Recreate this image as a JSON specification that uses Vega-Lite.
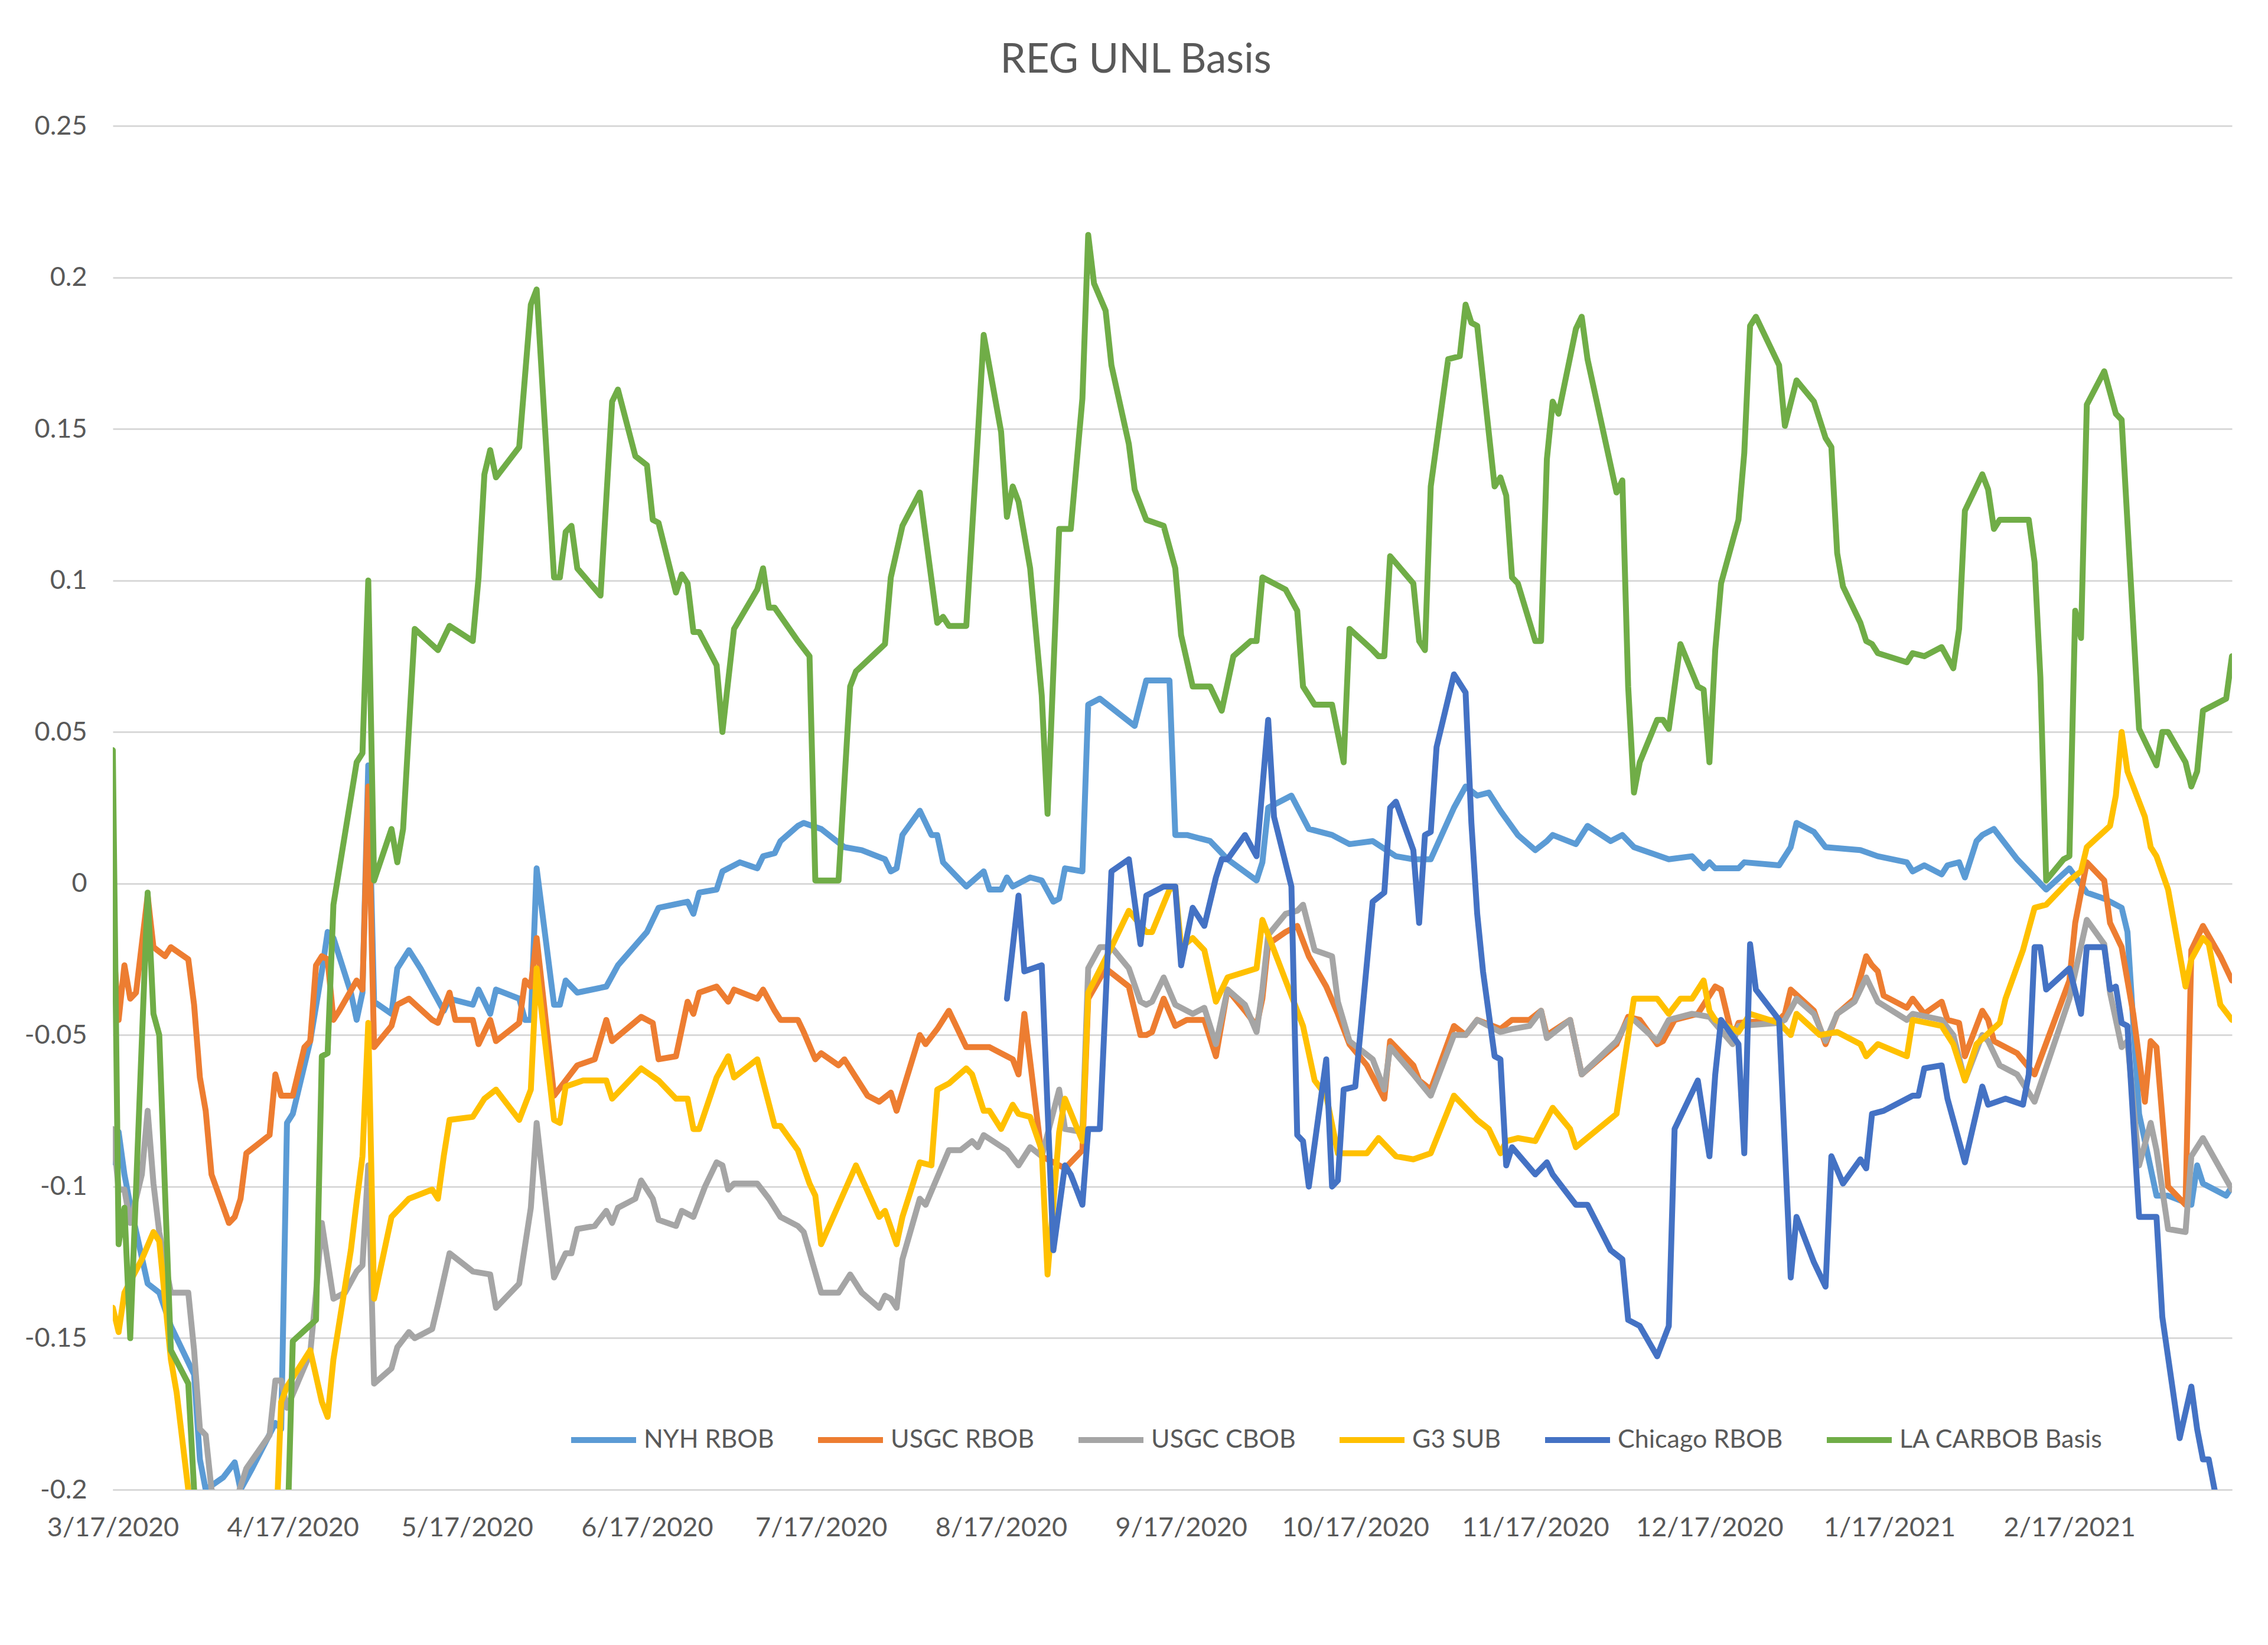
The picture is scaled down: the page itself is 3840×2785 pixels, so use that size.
{
"$schema": "https://vega.github.io/schema/vega-lite/v6.json",
"width": 3588, "height": 2309,
"autosize": {"type": "none"},
"padding": {"left": 191, "top": 213, "right": 61, "bottom": 263},
"background": "white",
"config": {"view": {"stroke": null}, "font": "Lato"},
"title": {"text": "REG UNL Basis", "fontSize": 69, "font": "Lato", "fontWeight": "normal", "color": "#595959", "anchor": "middle", "dx": -62, "offset": 54},
"data": {"values": [
{"s":"NYH RBOB","d":"2020-03-17","v":-0.092},{"s":"NYH RBOB","d":"2020-03-18","v":-0.082},{"s":"NYH RBOB","d":"2020-03-19","v":-0.096},{"s":"NYH RBOB","d":"2020-03-20","v":-0.106},{"s":"NYH RBOB","d":"2020-03-23","v":-0.132},{"s":"NYH RBOB","d":"2020-03-25","v":-0.135},{"s":"NYH RBOB","d":"2020-03-27","v":-0.146},{"s":"NYH RBOB","d":"2020-03-31","v":-0.162},{"s":"NYH RBOB","d":"2020-04-01","v":-0.19},{"s":"NYH RBOB","d":"2020-04-02","v":-0.2},{"s":"NYH RBOB","d":"2020-04-05","v":-0.196},{"s":"NYH RBOB","d":"2020-04-07","v":-0.191},{"s":"NYH RBOB","d":"2020-04-08","v":-0.2},{"s":"NYH RBOB","d":"2020-04-10","v":-0.193},{"s":"NYH RBOB","d":"2020-04-14","v":-0.178},{"s":"NYH RBOB","d":"2020-04-15","v":-0.18},{"s":"NYH RBOB","d":"2020-04-16","v":-0.079},{"s":"NYH RBOB","d":"2020-04-17","v":-0.076},{"s":"NYH RBOB","d":"2020-04-20","v":-0.052},{"s":"NYH RBOB","d":"2020-04-22","v":-0.029},{"s":"NYH RBOB","d":"2020-04-23","v":-0.016},{"s":"NYH RBOB","d":"2020-04-24","v":-0.018},{"s":"NYH RBOB","d":"2020-04-27","v":-0.036},{"s":"NYH RBOB","d":"2020-04-28","v":-0.045},{"s":"NYH RBOB","d":"2020-04-29","v":-0.036},{"s":"NYH RBOB","d":"2020-04-30","v":0.039},{"s":"NYH RBOB","d":"2020-05-01","v":-0.039},{"s":"NYH RBOB","d":"2020-05-04","v":-0.043},{"s":"NYH RBOB","d":"2020-05-05","v":-0.028},{"s":"NYH RBOB","d":"2020-05-07","v":-0.022},{"s":"NYH RBOB","d":"2020-05-09","v":-0.028},{"s":"NYH RBOB","d":"2020-05-13","v":-0.042},{"s":"NYH RBOB","d":"2020-05-14","v":-0.038},{"s":"NYH RBOB","d":"2020-05-18","v":-0.04},{"s":"NYH RBOB","d":"2020-05-19","v":-0.035},{"s":"NYH RBOB","d":"2020-05-21","v":-0.043},{"s":"NYH RBOB","d":"2020-05-22","v":-0.035},{"s":"NYH RBOB","d":"2020-05-26","v":-0.038},{"s":"NYH RBOB","d":"2020-05-27","v":-0.045},{"s":"NYH RBOB","d":"2020-05-28","v":-0.045},{"s":"NYH RBOB","d":"2020-05-29","v":0.005},{"s":"NYH RBOB","d":"2020-06-01","v":-0.04},{"s":"NYH RBOB","d":"2020-06-02","v":-0.04},{"s":"NYH RBOB","d":"2020-06-03","v":-0.032},{"s":"NYH RBOB","d":"2020-06-05","v":-0.036},{"s":"NYH RBOB","d":"2020-06-10","v":-0.034},{"s":"NYH RBOB","d":"2020-06-12","v":-0.027},{"s":"NYH RBOB","d":"2020-06-17","v":-0.016},{"s":"NYH RBOB","d":"2020-06-19","v":-0.008},{"s":"NYH RBOB","d":"2020-06-24","v":-0.006},{"s":"NYH RBOB","d":"2020-06-25","v":-0.01},{"s":"NYH RBOB","d":"2020-06-26","v":-0.003},{"s":"NYH RBOB","d":"2020-06-29","v":-0.002},{"s":"NYH RBOB","d":"2020-06-30","v":0.004},{"s":"NYH RBOB","d":"2020-07-03","v":0.007},{"s":"NYH RBOB","d":"2020-07-06","v":0.005},{"s":"NYH RBOB","d":"2020-07-07","v":0.009},{"s":"NYH RBOB","d":"2020-07-09","v":0.01},{"s":"NYH RBOB","d":"2020-07-10","v":0.014},{"s":"NYH RBOB","d":"2020-07-13","v":0.019},{"s":"NYH RBOB","d":"2020-07-14","v":0.02},{"s":"NYH RBOB","d":"2020-07-17","v":0.018},{"s":"NYH RBOB","d":"2020-07-21","v":0.012},{"s":"NYH RBOB","d":"2020-07-24","v":0.011},{"s":"NYH RBOB","d":"2020-07-28","v":0.008},{"s":"NYH RBOB","d":"2020-07-29","v":0.004},{"s":"NYH RBOB","d":"2020-07-30","v":0.005},{"s":"NYH RBOB","d":"2020-07-31","v":0.016},{"s":"NYH RBOB","d":"2020-08-03","v":0.024},{"s":"NYH RBOB","d":"2020-08-05","v":0.016},{"s":"NYH RBOB","d":"2020-08-06","v":0.016},{"s":"NYH RBOB","d":"2020-08-07","v":0.007},{"s":"NYH RBOB","d":"2020-08-11","v":-0.001},{"s":"NYH RBOB","d":"2020-08-14","v":0.004},{"s":"NYH RBOB","d":"2020-08-15","v":-0.002},{"s":"NYH RBOB","d":"2020-08-17","v":-0.002},{"s":"NYH RBOB","d":"2020-08-18","v":0.002},{"s":"NYH RBOB","d":"2020-08-19","v":-0.001},{"s":"NYH RBOB","d":"2020-08-22","v":0.002},{"s":"NYH RBOB","d":"2020-08-24","v":0.001},{"s":"NYH RBOB","d":"2020-08-26","v":-0.006},{"s":"NYH RBOB","d":"2020-08-27","v":-0.005},{"s":"NYH RBOB","d":"2020-08-28","v":0.005},{"s":"NYH RBOB","d":"2020-08-31","v":0.004},{"s":"NYH RBOB","d":"2020-09-01","v":0.059},{"s":"NYH RBOB","d":"2020-09-03","v":0.061},{"s":"NYH RBOB","d":"2020-09-09","v":0.052},{"s":"NYH RBOB","d":"2020-09-11","v":0.067},{"s":"NYH RBOB","d":"2020-09-15","v":0.067},{"s":"NYH RBOB","d":"2020-09-16","v":0.016},{"s":"NYH RBOB","d":"2020-09-18","v":0.016},{"s":"NYH RBOB","d":"2020-09-22","v":0.014},{"s":"NYH RBOB","d":"2020-09-25","v":0.008},{"s":"NYH RBOB","d":"2020-09-30","v":0.001},{"s":"NYH RBOB","d":"2020-10-01","v":0.007},{"s":"NYH RBOB","d":"2020-10-02","v":0.025},{"s":"NYH RBOB","d":"2020-10-06","v":0.029},{"s":"NYH RBOB","d":"2020-10-09","v":0.018},{"s":"NYH RBOB","d":"2020-10-13","v":0.016},{"s":"NYH RBOB","d":"2020-10-14","v":0.015},{"s":"NYH RBOB","d":"2020-10-16","v":0.013},{"s":"NYH RBOB","d":"2020-10-20","v":0.014},{"s":"NYH RBOB","d":"2020-10-24","v":0.009},{"s":"NYH RBOB","d":"2020-10-27","v":0.008},{"s":"NYH RBOB","d":"2020-10-30","v":0.008},{"s":"NYH RBOB","d":"2020-11-03","v":0.025},{"s":"NYH RBOB","d":"2020-11-05","v":0.032},{"s":"NYH RBOB","d":"2020-11-07","v":0.029},{"s":"NYH RBOB","d":"2020-11-09","v":0.03},{"s":"NYH RBOB","d":"2020-11-11","v":0.024},{"s":"NYH RBOB","d":"2020-11-14","v":0.016},{"s":"NYH RBOB","d":"2020-11-17","v":0.011},{"s":"NYH RBOB","d":"2020-11-19","v":0.014},{"s":"NYH RBOB","d":"2020-11-20","v":0.016},{"s":"NYH RBOB","d":"2020-11-24","v":0.013},{"s":"NYH RBOB","d":"2020-11-26","v":0.019},{"s":"NYH RBOB","d":"2020-11-30","v":0.014},{"s":"NYH RBOB","d":"2020-12-02","v":0.016},{"s":"NYH RBOB","d":"2020-12-04","v":0.012},{"s":"NYH RBOB","d":"2020-12-10","v":0.008},{"s":"NYH RBOB","d":"2020-12-14","v":0.009},{"s":"NYH RBOB","d":"2020-12-16","v":0.005},{"s":"NYH RBOB","d":"2020-12-17","v":0.007},{"s":"NYH RBOB","d":"2020-12-18","v":0.005},{"s":"NYH RBOB","d":"2020-12-22","v":0.005},{"s":"NYH RBOB","d":"2020-12-23","v":0.007},{"s":"NYH RBOB","d":"2020-12-29","v":0.006},{"s":"NYH RBOB","d":"2020-12-31","v":0.012},{"s":"NYH RBOB","d":"2021-01-01","v":0.02},{"s":"NYH RBOB","d":"2021-01-04","v":0.017},{"s":"NYH RBOB","d":"2021-01-06","v":0.012},{"s":"NYH RBOB","d":"2021-01-12","v":0.011},{"s":"NYH RBOB","d":"2021-01-15","v":0.009},{"s":"NYH RBOB","d":"2021-01-20","v":0.007},{"s":"NYH RBOB","d":"2021-01-21","v":0.004},{"s":"NYH RBOB","d":"2021-01-23","v":0.006},{"s":"NYH RBOB","d":"2021-01-26","v":0.003},{"s":"NYH RBOB","d":"2021-01-27","v":0.006},{"s":"NYH RBOB","d":"2021-01-29","v":0.007},{"s":"NYH RBOB","d":"2021-01-30","v":0.002},{"s":"NYH RBOB","d":"2021-02-01","v":0.014},{"s":"NYH RBOB","d":"2021-02-02","v":0.016},{"s":"NYH RBOB","d":"2021-02-04","v":0.018},{"s":"NYH RBOB","d":"2021-02-08","v":0.008},{"s":"NYH RBOB","d":"2021-02-10","v":0.004},{"s":"NYH RBOB","d":"2021-02-13","v":-0.002},{"s":"NYH RBOB","d":"2021-02-17","v":0.005},{"s":"NYH RBOB","d":"2021-02-20","v":-0.003},{"s":"NYH RBOB","d":"2021-02-23","v":-0.005},{"s":"NYH RBOB","d":"2021-02-26","v":-0.008},{"s":"NYH RBOB","d":"2021-02-27","v":-0.016},{"s":"NYH RBOB","d":"2021-03-01","v":-0.076},{"s":"NYH RBOB","d":"2021-03-04","v":-0.103},{"s":"NYH RBOB","d":"2021-03-06","v":-0.103},{"s":"NYH RBOB","d":"2021-03-10","v":-0.106},{"s":"NYH RBOB","d":"2021-03-11","v":-0.093},{"s":"NYH RBOB","d":"2021-03-12","v":-0.099},{"s":"NYH RBOB","d":"2021-03-14","v":-0.101},{"s":"NYH RBOB","d":"2021-03-16","v":-0.103},{"s":"NYH RBOB","d":"2021-03-17","v":-0.1},
{"s":"USGC RBOB","d":"2020-03-17","v":-0.018},{"s":"USGC RBOB","d":"2020-03-18","v":-0.045},{"s":"USGC RBOB","d":"2020-03-19","v":-0.027},{"s":"USGC RBOB","d":"2020-03-20","v":-0.038},{"s":"USGC RBOB","d":"2020-03-21","v":-0.036},{"s":"USGC RBOB","d":"2020-03-23","v":-0.004},{"s":"USGC RBOB","d":"2020-03-24","v":-0.021},{"s":"USGC RBOB","d":"2020-03-26","v":-0.024},{"s":"USGC RBOB","d":"2020-03-27","v":-0.021},{"s":"USGC RBOB","d":"2020-03-30","v":-0.025},{"s":"USGC RBOB","d":"2020-03-31","v":-0.04},{"s":"USGC RBOB","d":"2020-04-01","v":-0.064},{"s":"USGC RBOB","d":"2020-04-02","v":-0.075},{"s":"USGC RBOB","d":"2020-04-03","v":-0.096},{"s":"USGC RBOB","d":"2020-04-06","v":-0.112},{"s":"USGC RBOB","d":"2020-04-07","v":-0.11},{"s":"USGC RBOB","d":"2020-04-08","v":-0.104},{"s":"USGC RBOB","d":"2020-04-09","v":-0.089},{"s":"USGC RBOB","d":"2020-04-13","v":-0.083},{"s":"USGC RBOB","d":"2020-04-14","v":-0.063},{"s":"USGC RBOB","d":"2020-04-15","v":-0.07},{"s":"USGC RBOB","d":"2020-04-17","v":-0.07},{"s":"USGC RBOB","d":"2020-04-19","v":-0.054},{"s":"USGC RBOB","d":"2020-04-20","v":-0.052},{"s":"USGC RBOB","d":"2020-04-21","v":-0.027},{"s":"USGC RBOB","d":"2020-04-22","v":-0.024},{"s":"USGC RBOB","d":"2020-04-23","v":-0.025},{"s":"USGC RBOB","d":"2020-04-24","v":-0.045},{"s":"USGC RBOB","d":"2020-04-25","v":-0.042},{"s":"USGC RBOB","d":"2020-04-28","v":-0.032},{"s":"USGC RBOB","d":"2020-04-29","v":-0.035},{"s":"USGC RBOB","d":"2020-04-30","v":0.032},{"s":"USGC RBOB","d":"2020-05-01","v":-0.054},{"s":"USGC RBOB","d":"2020-05-04","v":-0.047},{"s":"USGC RBOB","d":"2020-05-05","v":-0.04},{"s":"USGC RBOB","d":"2020-05-07","v":-0.038},{"s":"USGC RBOB","d":"2020-05-11","v":-0.045},{"s":"USGC RBOB","d":"2020-05-12","v":-0.046},{"s":"USGC RBOB","d":"2020-05-14","v":-0.036},{"s":"USGC RBOB","d":"2020-05-15","v":-0.045},{"s":"USGC RBOB","d":"2020-05-18","v":-0.045},{"s":"USGC RBOB","d":"2020-05-19","v":-0.053},{"s":"USGC RBOB","d":"2020-05-21","v":-0.045},{"s":"USGC RBOB","d":"2020-05-22","v":-0.052},{"s":"USGC RBOB","d":"2020-05-26","v":-0.046},{"s":"USGC RBOB","d":"2020-05-27","v":-0.032},{"s":"USGC RBOB","d":"2020-05-28","v":-0.034},{"s":"USGC RBOB","d":"2020-05-29","v":-0.018},{"s":"USGC RBOB","d":"2020-06-01","v":-0.07},{"s":"USGC RBOB","d":"2020-06-03","v":-0.065},{"s":"USGC RBOB","d":"2020-06-05","v":-0.06},{"s":"USGC RBOB","d":"2020-06-08","v":-0.058},{"s":"USGC RBOB","d":"2020-06-10","v":-0.045},{"s":"USGC RBOB","d":"2020-06-11","v":-0.052},{"s":"USGC RBOB","d":"2020-06-16","v":-0.044},{"s":"USGC RBOB","d":"2020-06-18","v":-0.046},{"s":"USGC RBOB","d":"2020-06-19","v":-0.058},{"s":"USGC RBOB","d":"2020-06-22","v":-0.057},{"s":"USGC RBOB","d":"2020-06-24","v":-0.039},{"s":"USGC RBOB","d":"2020-06-25","v":-0.043},{"s":"USGC RBOB","d":"2020-06-26","v":-0.036},{"s":"USGC RBOB","d":"2020-06-29","v":-0.034},{"s":"USGC RBOB","d":"2020-07-01","v":-0.039},{"s":"USGC RBOB","d":"2020-07-02","v":-0.035},{"s":"USGC RBOB","d":"2020-07-06","v":-0.038},{"s":"USGC RBOB","d":"2020-07-07","v":-0.035},{"s":"USGC RBOB","d":"2020-07-09","v":-0.042},{"s":"USGC RBOB","d":"2020-07-10","v":-0.045},{"s":"USGC RBOB","d":"2020-07-13","v":-0.045},{"s":"USGC RBOB","d":"2020-07-14","v":-0.049},{"s":"USGC RBOB","d":"2020-07-16","v":-0.058},{"s":"USGC RBOB","d":"2020-07-17","v":-0.056},{"s":"USGC RBOB","d":"2020-07-20","v":-0.06},{"s":"USGC RBOB","d":"2020-07-21","v":-0.058},{"s":"USGC RBOB","d":"2020-07-25","v":-0.07},{"s":"USGC RBOB","d":"2020-07-27","v":-0.072},{"s":"USGC RBOB","d":"2020-07-29","v":-0.069},{"s":"USGC RBOB","d":"2020-07-30","v":-0.075},{"s":"USGC RBOB","d":"2020-08-03","v":-0.05},{"s":"USGC RBOB","d":"2020-08-04","v":-0.053},{"s":"USGC RBOB","d":"2020-08-06","v":-0.048},{"s":"USGC RBOB","d":"2020-08-08","v":-0.042},{"s":"USGC RBOB","d":"2020-08-11","v":-0.054},{"s":"USGC RBOB","d":"2020-08-15","v":-0.054},{"s":"USGC RBOB","d":"2020-08-18","v":-0.057},{"s":"USGC RBOB","d":"2020-08-19","v":-0.058},{"s":"USGC RBOB","d":"2020-08-20","v":-0.063},{"s":"USGC RBOB","d":"2020-08-21","v":-0.043},{"s":"USGC RBOB","d":"2020-08-24","v":-0.09},{"s":"USGC RBOB","d":"2020-08-28","v":-0.094},{"s":"USGC RBOB","d":"2020-08-31","v":-0.088},{"s":"USGC RBOB","d":"2020-09-01","v":-0.038},{"s":"USGC RBOB","d":"2020-09-04","v":-0.028},{"s":"USGC RBOB","d":"2020-09-08","v":-0.034},{"s":"USGC RBOB","d":"2020-09-10","v":-0.05},{"s":"USGC RBOB","d":"2020-09-11","v":-0.05},{"s":"USGC RBOB","d":"2020-09-12","v":-0.049},{"s":"USGC RBOB","d":"2020-09-14","v":-0.038},{"s":"USGC RBOB","d":"2020-09-16","v":-0.047},{"s":"USGC RBOB","d":"2020-09-18","v":-0.045},{"s":"USGC RBOB","d":"2020-09-21","v":-0.045},{"s":"USGC RBOB","d":"2020-09-23","v":-0.057},{"s":"USGC RBOB","d":"2020-09-25","v":-0.035},{"s":"USGC RBOB","d":"2020-09-28","v":-0.042},{"s":"USGC RBOB","d":"2020-09-30","v":-0.047},{"s":"USGC RBOB","d":"2020-10-01","v":-0.038},{"s":"USGC RBOB","d":"2020-10-02","v":-0.02},{"s":"USGC RBOB","d":"2020-10-05","v":-0.016},{"s":"USGC RBOB","d":"2020-10-07","v":-0.014},{"s":"USGC RBOB","d":"2020-10-09","v":-0.024},{"s":"USGC RBOB","d":"2020-10-12","v":-0.034},{"s":"USGC RBOB","d":"2020-10-14","v":-0.043},{"s":"USGC RBOB","d":"2020-10-16","v":-0.053},{"s":"USGC RBOB","d":"2020-10-19","v":-0.06},{"s":"USGC RBOB","d":"2020-10-22","v":-0.071},{"s":"USGC RBOB","d":"2020-10-23","v":-0.052},{"s":"USGC RBOB","d":"2020-10-27","v":-0.06},{"s":"USGC RBOB","d":"2020-10-28","v":-0.065},{"s":"USGC RBOB","d":"2020-10-30","v":-0.068},{"s":"USGC RBOB","d":"2020-11-03","v":-0.047},{"s":"USGC RBOB","d":"2020-11-05","v":-0.05},{"s":"USGC RBOB","d":"2020-11-07","v":-0.045},{"s":"USGC RBOB","d":"2020-11-11","v":-0.048},{"s":"USGC RBOB","d":"2020-11-13","v":-0.045},{"s":"USGC RBOB","d":"2020-11-16","v":-0.045},{"s":"USGC RBOB","d":"2020-11-18","v":-0.042},{"s":"USGC RBOB","d":"2020-11-19","v":-0.05},{"s":"USGC RBOB","d":"2020-11-23","v":-0.045},{"s":"USGC RBOB","d":"2020-11-25","v":-0.063},{"s":"USGC RBOB","d":"2020-12-01","v":-0.053},{"s":"USGC RBOB","d":"2020-12-03","v":-0.044},{"s":"USGC RBOB","d":"2020-12-05","v":-0.045},{"s":"USGC RBOB","d":"2020-12-08","v":-0.053},{"s":"USGC RBOB","d":"2020-12-09","v":-0.052},{"s":"USGC RBOB","d":"2020-12-11","v":-0.045},{"s":"USGC RBOB","d":"2020-12-15","v":-0.043},{"s":"USGC RBOB","d":"2020-12-18","v":-0.034},{"s":"USGC RBOB","d":"2020-12-19","v":-0.035},{"s":"USGC RBOB","d":"2020-12-21","v":-0.051},{"s":"USGC RBOB","d":"2020-12-22","v":-0.046},{"s":"USGC RBOB","d":"2020-12-29","v":-0.045},{"s":"USGC RBOB","d":"2020-12-30","v":-0.043},{"s":"USGC RBOB","d":"2020-12-31","v":-0.035},{"s":"USGC RBOB","d":"2021-01-04","v":-0.042},{"s":"USGC RBOB","d":"2021-01-06","v":-0.053},{"s":"USGC RBOB","d":"2021-01-08","v":-0.043},{"s":"USGC RBOB","d":"2021-01-11","v":-0.038},{"s":"USGC RBOB","d":"2021-01-12","v":-0.031},{"s":"USGC RBOB","d":"2021-01-13","v":-0.024},{"s":"USGC RBOB","d":"2021-01-14","v":-0.027},{"s":"USGC RBOB","d":"2021-01-15","v":-0.029},{"s":"USGC RBOB","d":"2021-01-16","v":-0.037},{"s":"USGC RBOB","d":"2021-01-20","v":-0.041},{"s":"USGC RBOB","d":"2021-01-21","v":-0.038},{"s":"USGC RBOB","d":"2021-01-23","v":-0.043},{"s":"USGC RBOB","d":"2021-01-26","v":-0.039},{"s":"USGC RBOB","d":"2021-01-27","v":-0.045},{"s":"USGC RBOB","d":"2021-01-29","v":-0.046},{"s":"USGC RBOB","d":"2021-01-30","v":-0.057},{"s":"USGC RBOB","d":"2021-02-02","v":-0.042},{"s":"USGC RBOB","d":"2021-02-03","v":-0.045},{"s":"USGC RBOB","d":"2021-02-04","v":-0.052},{"s":"USGC RBOB","d":"2021-02-08","v":-0.056},{"s":"USGC RBOB","d":"2021-02-11","v":-0.063},{"s":"USGC RBOB","d":"2021-02-17","v":-0.032},{"s":"USGC RBOB","d":"2021-02-18","v":-0.013},{"s":"USGC RBOB","d":"2021-02-20","v":0.007},{"s":"USGC RBOB","d":"2021-02-23","v":0.001},{"s":"USGC RBOB","d":"2021-02-24","v":-0.013},{"s":"USGC RBOB","d":"2021-02-26","v":-0.021},{"s":"USGC RBOB","d":"2021-02-28","v":-0.043},{"s":"USGC RBOB","d":"2021-03-02","v":-0.072},{"s":"USGC RBOB","d":"2021-03-03","v":-0.052},{"s":"USGC RBOB","d":"2021-03-04","v":-0.054},{"s":"USGC RBOB","d":"2021-03-06","v":-0.1},{"s":"USGC RBOB","d":"2021-03-09","v":-0.106},{"s":"USGC RBOB","d":"2021-03-10","v":-0.022},{"s":"USGC RBOB","d":"2021-03-12","v":-0.014},{"s":"USGC RBOB","d":"2021-03-15","v":-0.024},{"s":"USGC RBOB","d":"2021-03-17","v":-0.032},
{"s":"USGC CBOB","d":"2020-03-17","v":-0.081},{"s":"USGC CBOB","d":"2020-03-18","v":-0.101},{"s":"USGC CBOB","d":"2020-03-19","v":-0.101},{"s":"USGC CBOB","d":"2020-03-20","v":-0.112},{"s":"USGC CBOB","d":"2020-03-22","v":-0.096},{"s":"USGC CBOB","d":"2020-03-23","v":-0.075},{"s":"USGC CBOB","d":"2020-03-24","v":-0.099},{"s":"USGC CBOB","d":"2020-03-25","v":-0.115},{"s":"USGC CBOB","d":"2020-03-27","v":-0.135},{"s":"USGC CBOB","d":"2020-03-30","v":-0.135},{"s":"USGC CBOB","d":"2020-03-31","v":-0.154},{"s":"USGC CBOB","d":"2020-04-01","v":-0.18},{"s":"USGC CBOB","d":"2020-04-02","v":-0.182},{"s":"USGC CBOB","d":"2020-04-03","v":-0.2},{"s":"USGC CBOB","d":"2020-04-05","v":-0.205},{"s":"USGC CBOB","d":"2020-04-07","v":-0.205},{"s":"USGC CBOB","d":"2020-04-09","v":-0.193},{"s":"USGC CBOB","d":"2020-04-13","v":-0.182},{"s":"USGC CBOB","d":"2020-04-14","v":-0.164},{"s":"USGC CBOB","d":"2020-04-15","v":-0.164},{"s":"USGC CBOB","d":"2020-04-16","v":-0.173},{"s":"USGC CBOB","d":"2020-04-20","v":-0.155},{"s":"USGC CBOB","d":"2020-04-21","v":-0.135},{"s":"USGC CBOB","d":"2020-04-22","v":-0.112},{"s":"USGC CBOB","d":"2020-04-24","v":-0.137},{"s":"USGC CBOB","d":"2020-04-26","v":-0.135},{"s":"USGC CBOB","d":"2020-04-28","v":-0.128},{"s":"USGC CBOB","d":"2020-04-29","v":-0.126},{"s":"USGC CBOB","d":"2020-04-30","v":-0.093},{"s":"USGC CBOB","d":"2020-05-01","v":-0.165},{"s":"USGC CBOB","d":"2020-05-04","v":-0.16},{"s":"USGC CBOB","d":"2020-05-05","v":-0.153},{"s":"USGC CBOB","d":"2020-05-07","v":-0.148},{"s":"USGC CBOB","d":"2020-05-08","v":-0.15},{"s":"USGC CBOB","d":"2020-05-11","v":-0.147},{"s":"USGC CBOB","d":"2020-05-12","v":-0.139},{"s":"USGC CBOB","d":"2020-05-14","v":-0.122},{"s":"USGC CBOB","d":"2020-05-18","v":-0.128},{"s":"USGC CBOB","d":"2020-05-21","v":-0.129},{"s":"USGC CBOB","d":"2020-05-22","v":-0.14},{"s":"USGC CBOB","d":"2020-05-26","v":-0.132},{"s":"USGC CBOB","d":"2020-05-28","v":-0.107},{"s":"USGC CBOB","d":"2020-05-29","v":-0.079},{"s":"USGC CBOB","d":"2020-06-01","v":-0.13},{"s":"USGC CBOB","d":"2020-06-03","v":-0.122},{"s":"USGC CBOB","d":"2020-06-04","v":-0.122},{"s":"USGC CBOB","d":"2020-06-05","v":-0.114},{"s":"USGC CBOB","d":"2020-06-08","v":-0.113},{"s":"USGC CBOB","d":"2020-06-10","v":-0.108},{"s":"USGC CBOB","d":"2020-06-11","v":-0.112},{"s":"USGC CBOB","d":"2020-06-12","v":-0.107},{"s":"USGC CBOB","d":"2020-06-15","v":-0.104},{"s":"USGC CBOB","d":"2020-06-16","v":-0.098},{"s":"USGC CBOB","d":"2020-06-18","v":-0.104},{"s":"USGC CBOB","d":"2020-06-19","v":-0.111},{"s":"USGC CBOB","d":"2020-06-22","v":-0.113},{"s":"USGC CBOB","d":"2020-06-23","v":-0.108},{"s":"USGC CBOB","d":"2020-06-25","v":-0.11},{"s":"USGC CBOB","d":"2020-06-27","v":-0.1},{"s":"USGC CBOB","d":"2020-06-29","v":-0.092},{"s":"USGC CBOB","d":"2020-06-30","v":-0.093},{"s":"USGC CBOB","d":"2020-07-01","v":-0.101},{"s":"USGC CBOB","d":"2020-07-02","v":-0.099},{"s":"USGC CBOB","d":"2020-07-06","v":-0.099},{"s":"USGC CBOB","d":"2020-07-08","v":-0.104},{"s":"USGC CBOB","d":"2020-07-10","v":-0.11},{"s":"USGC CBOB","d":"2020-07-13","v":-0.113},{"s":"USGC CBOB","d":"2020-07-14","v":-0.115},{"s":"USGC CBOB","d":"2020-07-17","v":-0.135},{"s":"USGC CBOB","d":"2020-07-20","v":-0.135},{"s":"USGC CBOB","d":"2020-07-22","v":-0.129},{"s":"USGC CBOB","d":"2020-07-24","v":-0.135},{"s":"USGC CBOB","d":"2020-07-27","v":-0.14},{"s":"USGC CBOB","d":"2020-07-28","v":-0.136},{"s":"USGC CBOB","d":"2020-07-29","v":-0.137},{"s":"USGC CBOB","d":"2020-07-30","v":-0.14},{"s":"USGC CBOB","d":"2020-07-31","v":-0.124},{"s":"USGC CBOB","d":"2020-08-03","v":-0.104},{"s":"USGC CBOB","d":"2020-08-04","v":-0.106},{"s":"USGC CBOB","d":"2020-08-08","v":-0.088},{"s":"USGC CBOB","d":"2020-08-10","v":-0.088},{"s":"USGC CBOB","d":"2020-08-12","v":-0.085},{"s":"USGC CBOB","d":"2020-08-13","v":-0.087},{"s":"USGC CBOB","d":"2020-08-14","v":-0.083},{"s":"USGC CBOB","d":"2020-08-18","v":-0.088},{"s":"USGC CBOB","d":"2020-08-20","v":-0.093},{"s":"USGC CBOB","d":"2020-08-22","v":-0.087},{"s":"USGC CBOB","d":"2020-08-24","v":-0.09},{"s":"USGC CBOB","d":"2020-08-27","v":-0.068},{"s":"USGC CBOB","d":"2020-08-28","v":-0.081},{"s":"USGC CBOB","d":"2020-08-31","v":-0.082},{"s":"USGC CBOB","d":"2020-09-01","v":-0.028},{"s":"USGC CBOB","d":"2020-09-03","v":-0.021},{"s":"USGC CBOB","d":"2020-09-05","v":-0.021},{"s":"USGC CBOB","d":"2020-09-08","v":-0.028},{"s":"USGC CBOB","d":"2020-09-10","v":-0.039},{"s":"USGC CBOB","d":"2020-09-11","v":-0.04},{"s":"USGC CBOB","d":"2020-09-12","v":-0.039},{"s":"USGC CBOB","d":"2020-09-14","v":-0.031},{"s":"USGC CBOB","d":"2020-09-16","v":-0.04},{"s":"USGC CBOB","d":"2020-09-19","v":-0.043},{"s":"USGC CBOB","d":"2020-09-21","v":-0.041},{"s":"USGC CBOB","d":"2020-09-23","v":-0.053},{"s":"USGC CBOB","d":"2020-09-25","v":-0.035},{"s":"USGC CBOB","d":"2020-09-28","v":-0.04},{"s":"USGC CBOB","d":"2020-09-30","v":-0.049},{"s":"USGC CBOB","d":"2020-10-01","v":-0.035},{"s":"USGC CBOB","d":"2020-10-02","v":-0.017},{"s":"USGC CBOB","d":"2020-10-05","v":-0.01},{"s":"USGC CBOB","d":"2020-10-07","v":-0.009},{"s":"USGC CBOB","d":"2020-10-08","v":-0.007},{"s":"USGC CBOB","d":"2020-10-10","v":-0.022},{"s":"USGC CBOB","d":"2020-10-13","v":-0.024},{"s":"USGC CBOB","d":"2020-10-14","v":-0.039},{"s":"USGC CBOB","d":"2020-10-16","v":-0.052},{"s":"USGC CBOB","d":"2020-10-20","v":-0.058},{"s":"USGC CBOB","d":"2020-10-22","v":-0.068},{"s":"USGC CBOB","d":"2020-10-23","v":-0.054},{"s":"USGC CBOB","d":"2020-10-27","v":-0.063},{"s":"USGC CBOB","d":"2020-10-30","v":-0.07},{"s":"USGC CBOB","d":"2020-11-03","v":-0.05},{"s":"USGC CBOB","d":"2020-11-05","v":-0.05},{"s":"USGC CBOB","d":"2020-11-07","v":-0.045},{"s":"USGC CBOB","d":"2020-11-11","v":-0.049},{"s":"USGC CBOB","d":"2020-11-13","v":-0.048},{"s":"USGC CBOB","d":"2020-11-16","v":-0.047},{"s":"USGC CBOB","d":"2020-11-18","v":-0.042},{"s":"USGC CBOB","d":"2020-11-19","v":-0.051},{"s":"USGC CBOB","d":"2020-11-23","v":-0.045},{"s":"USGC CBOB","d":"2020-11-25","v":-0.063},{"s":"USGC CBOB","d":"2020-12-01","v":-0.052},{"s":"USGC CBOB","d":"2020-12-03","v":-0.045},{"s":"USGC CBOB","d":"2020-12-04","v":-0.045},{"s":"USGC CBOB","d":"2020-12-08","v":-0.052},{"s":"USGC CBOB","d":"2020-12-10","v":-0.045},{"s":"USGC CBOB","d":"2020-12-14","v":-0.043},{"s":"USGC CBOB","d":"2020-12-17","v":-0.044},{"s":"USGC CBOB","d":"2020-12-21","v":-0.053},{"s":"USGC CBOB","d":"2020-12-22","v":-0.047},{"s":"USGC CBOB","d":"2020-12-29","v":-0.046},{"s":"USGC CBOB","d":"2020-12-30","v":-0.045},{"s":"USGC CBOB","d":"2021-01-01","v":-0.038},{"s":"USGC CBOB","d":"2021-01-04","v":-0.043},{"s":"USGC CBOB","d":"2021-01-06","v":-0.052},{"s":"USGC CBOB","d":"2021-01-08","v":-0.043},{"s":"USGC CBOB","d":"2021-01-11","v":-0.039},{"s":"USGC CBOB","d":"2021-01-12","v":-0.035},{"s":"USGC CBOB","d":"2021-01-13","v":-0.031},{"s":"USGC CBOB","d":"2021-01-15","v":-0.039},{"s":"USGC CBOB","d":"2021-01-20","v":-0.045},{"s":"USGC CBOB","d":"2021-01-21","v":-0.043},{"s":"USGC CBOB","d":"2021-01-26","v":-0.045},{"s":"USGC CBOB","d":"2021-01-28","v":-0.05},{"s":"USGC CBOB","d":"2021-01-30","v":-0.065},{"s":"USGC CBOB","d":"2021-02-02","v":-0.05},{"s":"USGC CBOB","d":"2021-02-03","v":-0.052},{"s":"USGC CBOB","d":"2021-02-05","v":-0.06},{"s":"USGC CBOB","d":"2021-02-08","v":-0.063},{"s":"USGC CBOB","d":"2021-02-11","v":-0.072},{"s":"USGC CBOB","d":"2021-02-17","v":-0.038},{"s":"USGC CBOB","d":"2021-02-20","v":-0.012},{"s":"USGC CBOB","d":"2021-02-23","v":-0.02},{"s":"USGC CBOB","d":"2021-02-24","v":-0.036},{"s":"USGC CBOB","d":"2021-02-26","v":-0.054},{"s":"USGC CBOB","d":"2021-02-27","v":-0.052},{"s":"USGC CBOB","d":"2021-03-01","v":-0.093},{"s":"USGC CBOB","d":"2021-03-03","v":-0.079},{"s":"USGC CBOB","d":"2021-03-04","v":-0.088},{"s":"USGC CBOB","d":"2021-03-06","v":-0.114},{"s":"USGC CBOB","d":"2021-03-09","v":-0.115},{"s":"USGC CBOB","d":"2021-03-10","v":-0.09},{"s":"USGC CBOB","d":"2021-03-12","v":-0.084},{"s":"USGC CBOB","d":"2021-03-17","v":-0.101},
{"s":"G3 SUB","d":"2020-03-17","v":-0.14},{"s":"G3 SUB","d":"2020-03-18","v":-0.148},{"s":"G3 SUB","d":"2020-03-19","v":-0.135},{"s":"G3 SUB","d":"2020-03-22","v":-0.124},{"s":"G3 SUB","d":"2020-03-24","v":-0.115},{"s":"G3 SUB","d":"2020-03-25","v":-0.118},{"s":"G3 SUB","d":"2020-03-27","v":-0.157},{"s":"G3 SUB","d":"2020-03-28","v":-0.168},{"s":"G3 SUB","d":"2020-03-30","v":-0.2},{"s":"G3 SUB","d":"2020-04-02","v":-0.25},{"s":"G3 SUB","d":"2020-04-13","v":-0.25},{"s":"G3 SUB","d":"2020-04-14","v":-0.22},{"s":"G3 SUB","d":"2020-04-15","v":-0.171},{"s":"G3 SUB","d":"2020-04-16","v":-0.166},{"s":"G3 SUB","d":"2020-04-20","v":-0.154},{"s":"G3 SUB","d":"2020-04-22","v":-0.171},{"s":"G3 SUB","d":"2020-04-23","v":-0.176},{"s":"G3 SUB","d":"2020-04-24","v":-0.157},{"s":"G3 SUB","d":"2020-04-27","v":-0.121},{"s":"G3 SUB","d":"2020-04-28","v":-0.105},{"s":"G3 SUB","d":"2020-04-29","v":-0.09},{"s":"G3 SUB","d":"2020-04-30","v":-0.046},{"s":"G3 SUB","d":"2020-05-01","v":-0.137},{"s":"G3 SUB","d":"2020-05-04","v":-0.11},{"s":"G3 SUB","d":"2020-05-07","v":-0.104},{"s":"G3 SUB","d":"2020-05-11","v":-0.101},{"s":"G3 SUB","d":"2020-05-12","v":-0.104},{"s":"G3 SUB","d":"2020-05-13","v":-0.09},{"s":"G3 SUB","d":"2020-05-14","v":-0.078},{"s":"G3 SUB","d":"2020-05-18","v":-0.077},{"s":"G3 SUB","d":"2020-05-20","v":-0.071},{"s":"G3 SUB","d":"2020-05-22","v":-0.068},{"s":"G3 SUB","d":"2020-05-26","v":-0.078},{"s":"G3 SUB","d":"2020-05-28","v":-0.068},{"s":"G3 SUB","d":"2020-05-29","v":-0.028},{"s":"G3 SUB","d":"2020-06-01","v":-0.078},{"s":"G3 SUB","d":"2020-06-02","v":-0.079},{"s":"G3 SUB","d":"2020-06-03","v":-0.067},{"s":"G3 SUB","d":"2020-06-06","v":-0.065},{"s":"G3 SUB","d":"2020-06-10","v":-0.065},{"s":"G3 SUB","d":"2020-06-11","v":-0.071},{"s":"G3 SUB","d":"2020-06-16","v":-0.061},{"s":"G3 SUB","d":"2020-06-19","v":-0.065},{"s":"G3 SUB","d":"2020-06-22","v":-0.071},{"s":"G3 SUB","d":"2020-06-24","v":-0.071},{"s":"G3 SUB","d":"2020-06-25","v":-0.081},{"s":"G3 SUB","d":"2020-06-26","v":-0.081},{"s":"G3 SUB","d":"2020-06-29","v":-0.064},{"s":"G3 SUB","d":"2020-07-01","v":-0.057},{"s":"G3 SUB","d":"2020-07-02","v":-0.064},{"s":"G3 SUB","d":"2020-07-06","v":-0.058},{"s":"G3 SUB","d":"2020-07-09","v":-0.08},{"s":"G3 SUB","d":"2020-07-10","v":-0.08},{"s":"G3 SUB","d":"2020-07-13","v":-0.088},{"s":"G3 SUB","d":"2020-07-15","v":-0.099},{"s":"G3 SUB","d":"2020-07-16","v":-0.103},{"s":"G3 SUB","d":"2020-07-17","v":-0.119},{"s":"G3 SUB","d":"2020-07-23","v":-0.093},{"s":"G3 SUB","d":"2020-07-27","v":-0.11},{"s":"G3 SUB","d":"2020-07-28","v":-0.108},{"s":"G3 SUB","d":"2020-07-30","v":-0.119},{"s":"G3 SUB","d":"2020-07-31","v":-0.11},{"s":"G3 SUB","d":"2020-08-03","v":-0.092},{"s":"G3 SUB","d":"2020-08-05","v":-0.093},{"s":"G3 SUB","d":"2020-08-06","v":-0.068},{"s":"G3 SUB","d":"2020-08-08","v":-0.066},{"s":"G3 SUB","d":"2020-08-11","v":-0.061},{"s":"G3 SUB","d":"2020-08-12","v":-0.063},{"s":"G3 SUB","d":"2020-08-14","v":-0.075},{"s":"G3 SUB","d":"2020-08-15","v":-0.075},{"s":"G3 SUB","d":"2020-08-17","v":-0.081},{"s":"G3 SUB","d":"2020-08-19","v":-0.073},{"s":"G3 SUB","d":"2020-08-20","v":-0.076},{"s":"G3 SUB","d":"2020-08-22","v":-0.077},{"s":"G3 SUB","d":"2020-08-24","v":-0.088},{"s":"G3 SUB","d":"2020-08-25","v":-0.129},{"s":"G3 SUB","d":"2020-08-27","v":-0.082},{"s":"G3 SUB","d":"2020-08-28","v":-0.071},{"s":"G3 SUB","d":"2020-08-31","v":-0.085},{"s":"G3 SUB","d":"2020-09-01","v":-0.036},{"s":"G3 SUB","d":"2020-09-05","v":-0.021},{"s":"G3 SUB","d":"2020-09-08","v":-0.009},{"s":"G3 SUB","d":"2020-09-11","v":-0.016},{"s":"G3 SUB","d":"2020-09-12","v":-0.016},{"s":"G3 SUB","d":"2020-09-15","v":-0.002},{"s":"G3 SUB","d":"2020-09-16","v":-0.001},{"s":"G3 SUB","d":"2020-09-17","v":-0.021},{"s":"G3 SUB","d":"2020-09-19","v":-0.018},{"s":"G3 SUB","d":"2020-09-21","v":-0.022},{"s":"G3 SUB","d":"2020-09-23","v":-0.039},{"s":"G3 SUB","d":"2020-09-25","v":-0.031},{"s":"G3 SUB","d":"2020-09-30","v":-0.028},{"s":"G3 SUB","d":"2020-10-01","v":-0.012},{"s":"G3 SUB","d":"2020-10-05","v":-0.032},{"s":"G3 SUB","d":"2020-10-08","v":-0.047},{"s":"G3 SUB","d":"2020-10-10","v":-0.065},{"s":"G3 SUB","d":"2020-10-12","v":-0.07},{"s":"G3 SUB","d":"2020-10-14","v":-0.089},{"s":"G3 SUB","d":"2020-10-16","v":-0.089},{"s":"G3 SUB","d":"2020-10-19","v":-0.089},{"s":"G3 SUB","d":"2020-10-21","v":-0.084},{"s":"G3 SUB","d":"2020-10-24","v":-0.09},{"s":"G3 SUB","d":"2020-10-27","v":-0.091},{"s":"G3 SUB","d":"2020-10-30","v":-0.089},{"s":"G3 SUB","d":"2020-11-03","v":-0.07},{"s":"G3 SUB","d":"2020-11-07","v":-0.078},{"s":"G3 SUB","d":"2020-11-09","v":-0.081},{"s":"G3 SUB","d":"2020-11-11","v":-0.089},{"s":"G3 SUB","d":"2020-11-12","v":-0.085},{"s":"G3 SUB","d":"2020-11-14","v":-0.084},{"s":"G3 SUB","d":"2020-11-17","v":-0.085},{"s":"G3 SUB","d":"2020-11-20","v":-0.074},{"s":"G3 SUB","d":"2020-11-23","v":-0.081},{"s":"G3 SUB","d":"2020-11-24","v":-0.087},{"s":"G3 SUB","d":"2020-12-01","v":-0.076},{"s":"G3 SUB","d":"2020-12-02","v":-0.063},{"s":"G3 SUB","d":"2020-12-04","v":-0.038},{"s":"G3 SUB","d":"2020-12-08","v":-0.038},{"s":"G3 SUB","d":"2020-12-10","v":-0.043},{"s":"G3 SUB","d":"2020-12-12","v":-0.038},{"s":"G3 SUB","d":"2020-12-14","v":-0.038},{"s":"G3 SUB","d":"2020-12-16","v":-0.032},{"s":"G3 SUB","d":"2020-12-17","v":-0.042},{"s":"G3 SUB","d":"2020-12-18","v":-0.045},{"s":"G3 SUB","d":"2020-12-22","v":-0.049},{"s":"G3 SUB","d":"2020-12-24","v":-0.043},{"s":"G3 SUB","d":"2020-12-29","v":-0.046},{"s":"G3 SUB","d":"2020-12-31","v":-0.05},{"s":"G3 SUB","d":"2021-01-01","v":-0.043},{"s":"G3 SUB","d":"2021-01-05","v":-0.05},{"s":"G3 SUB","d":"2021-01-08","v":-0.049},{"s":"G3 SUB","d":"2021-01-12","v":-0.053},{"s":"G3 SUB","d":"2021-01-13","v":-0.057},{"s":"G3 SUB","d":"2021-01-15","v":-0.053},{"s":"G3 SUB","d":"2021-01-20","v":-0.057},{"s":"G3 SUB","d":"2021-01-21","v":-0.045},{"s":"G3 SUB","d":"2021-01-26","v":-0.047},{"s":"G3 SUB","d":"2021-01-28","v":-0.053},{"s":"G3 SUB","d":"2021-01-30","v":-0.065},{"s":"G3 SUB","d":"2021-02-01","v":-0.053},{"s":"G3 SUB","d":"2021-02-05","v":-0.046},{"s":"G3 SUB","d":"2021-02-06","v":-0.038},{"s":"G3 SUB","d":"2021-02-09","v":-0.022},{"s":"G3 SUB","d":"2021-02-11","v":-0.008},{"s":"G3 SUB","d":"2021-02-13","v":-0.007},{"s":"G3 SUB","d":"2021-02-17","v":0.001},{"s":"G3 SUB","d":"2021-02-19","v":0.004},{"s":"G3 SUB","d":"2021-02-20","v":0.012},{"s":"G3 SUB","d":"2021-02-24","v":0.019},{"s":"G3 SUB","d":"2021-02-25","v":0.029},{"s":"G3 SUB","d":"2021-02-26","v":0.05},{"s":"G3 SUB","d":"2021-02-27","v":0.037},{"s":"G3 SUB","d":"2021-03-02","v":0.022},{"s":"G3 SUB","d":"2021-03-03","v":0.012},{"s":"G3 SUB","d":"2021-03-04","v":0.009},{"s":"G3 SUB","d":"2021-03-06","v":-0.002},{"s":"G3 SUB","d":"2021-03-09","v":-0.034},{"s":"G3 SUB","d":"2021-03-10","v":-0.025},{"s":"G3 SUB","d":"2021-03-12","v":-0.018},{"s":"G3 SUB","d":"2021-03-13","v":-0.02},{"s":"G3 SUB","d":"2021-03-15","v":-0.04},{"s":"G3 SUB","d":"2021-03-17","v":-0.045},
{"s":"Chicago RBOB","d":"2020-08-18","v":-0.038},{"s":"Chicago RBOB","d":"2020-08-20","v":-0.004},{"s":"Chicago RBOB","d":"2020-08-21","v":-0.029},{"s":"Chicago RBOB","d":"2020-08-24","v":-0.027},{"s":"Chicago RBOB","d":"2020-08-26","v":-0.121},{"s":"Chicago RBOB","d":"2020-08-28","v":-0.093},{"s":"Chicago RBOB","d":"2020-08-29","v":-0.096},{"s":"Chicago RBOB","d":"2020-08-31","v":-0.106},{"s":"Chicago RBOB","d":"2020-09-01","v":-0.081},{"s":"Chicago RBOB","d":"2020-09-03","v":-0.081},{"s":"Chicago RBOB","d":"2020-09-05","v":0.004},{"s":"Chicago RBOB","d":"2020-09-08","v":0.008},{"s":"Chicago RBOB","d":"2020-09-10","v":-0.02},{"s":"Chicago RBOB","d":"2020-09-11","v":-0.004},{"s":"Chicago RBOB","d":"2020-09-12","v":-0.003},{"s":"Chicago RBOB","d":"2020-09-14","v":-0.001},{"s":"Chicago RBOB","d":"2020-09-16","v":-0.001},{"s":"Chicago RBOB","d":"2020-09-17","v":-0.027},{"s":"Chicago RBOB","d":"2020-09-19","v":-0.008},{"s":"Chicago RBOB","d":"2020-09-21","v":-0.014},{"s":"Chicago RBOB","d":"2020-09-23","v":0.002},{"s":"Chicago RBOB","d":"2020-09-24","v":0.008},{"s":"Chicago RBOB","d":"2020-09-25","v":0.008},{"s":"Chicago RBOB","d":"2020-09-28","v":0.016},{"s":"Chicago RBOB","d":"2020-09-30","v":0.009},{"s":"Chicago RBOB","d":"2020-10-02","v":0.054},{"s":"Chicago RBOB","d":"2020-10-03","v":0.022},{"s":"Chicago RBOB","d":"2020-10-06","v":-0.001},{"s":"Chicago RBOB","d":"2020-10-07","v":-0.083},{"s":"Chicago RBOB","d":"2020-10-08","v":-0.085},{"s":"Chicago RBOB","d":"2020-10-09","v":-0.1},{"s":"Chicago RBOB","d":"2020-10-12","v":-0.058},{"s":"Chicago RBOB","d":"2020-10-13","v":-0.1},{"s":"Chicago RBOB","d":"2020-10-14","v":-0.098},{"s":"Chicago RBOB","d":"2020-10-15","v":-0.068},{"s":"Chicago RBOB","d":"2020-10-17","v":-0.067},{"s":"Chicago RBOB","d":"2020-10-20","v":-0.006},{"s":"Chicago RBOB","d":"2020-10-22","v":-0.003},{"s":"Chicago RBOB","d":"2020-10-23","v":0.025},{"s":"Chicago RBOB","d":"2020-10-24","v":0.027},{"s":"Chicago RBOB","d":"2020-10-27","v":0.011},{"s":"Chicago RBOB","d":"2020-10-28","v":-0.013},{"s":"Chicago RBOB","d":"2020-10-29","v":0.016},{"s":"Chicago RBOB","d":"2020-10-30","v":0.017},{"s":"Chicago RBOB","d":"2020-10-31","v":0.045},{"s":"Chicago RBOB","d":"2020-11-03","v":0.069},{"s":"Chicago RBOB","d":"2020-11-05","v":0.063},{"s":"Chicago RBOB","d":"2020-11-06","v":0.02},{"s":"Chicago RBOB","d":"2020-11-07","v":-0.01},{"s":"Chicago RBOB","d":"2020-11-08","v":-0.029},{"s":"Chicago RBOB","d":"2020-11-10","v":-0.057},{"s":"Chicago RBOB","d":"2020-11-11","v":-0.058},{"s":"Chicago RBOB","d":"2020-11-12","v":-0.093},{"s":"Chicago RBOB","d":"2020-11-13","v":-0.087},{"s":"Chicago RBOB","d":"2020-11-17","v":-0.096},{"s":"Chicago RBOB","d":"2020-11-19","v":-0.092},{"s":"Chicago RBOB","d":"2020-11-20","v":-0.096},{"s":"Chicago RBOB","d":"2020-11-24","v":-0.106},{"s":"Chicago RBOB","d":"2020-11-26","v":-0.106},{"s":"Chicago RBOB","d":"2020-11-30","v":-0.121},{"s":"Chicago RBOB","d":"2020-12-02","v":-0.124},{"s":"Chicago RBOB","d":"2020-12-03","v":-0.144},{"s":"Chicago RBOB","d":"2020-12-05","v":-0.146},{"s":"Chicago RBOB","d":"2020-12-08","v":-0.156},{"s":"Chicago RBOB","d":"2020-12-10","v":-0.146},{"s":"Chicago RBOB","d":"2020-12-11","v":-0.081},{"s":"Chicago RBOB","d":"2020-12-15","v":-0.065},{"s":"Chicago RBOB","d":"2020-12-17","v":-0.09},{"s":"Chicago RBOB","d":"2020-12-18","v":-0.063},{"s":"Chicago RBOB","d":"2020-12-19","v":-0.045},{"s":"Chicago RBOB","d":"2020-12-22","v":-0.053},{"s":"Chicago RBOB","d":"2020-12-23","v":-0.089},{"s":"Chicago RBOB","d":"2020-12-24","v":-0.02},{"s":"Chicago RBOB","d":"2020-12-25","v":-0.035},{"s":"Chicago RBOB","d":"2020-12-29","v":-0.045},{"s":"Chicago RBOB","d":"2020-12-31","v":-0.13},{"s":"Chicago RBOB","d":"2021-01-01","v":-0.11},{"s":"Chicago RBOB","d":"2021-01-04","v":-0.125},{"s":"Chicago RBOB","d":"2021-01-06","v":-0.133},{"s":"Chicago RBOB","d":"2021-01-07","v":-0.09},{"s":"Chicago RBOB","d":"2021-01-09","v":-0.099},{"s":"Chicago RBOB","d":"2021-01-12","v":-0.091},{"s":"Chicago RBOB","d":"2021-01-13","v":-0.094},{"s":"Chicago RBOB","d":"2021-01-14","v":-0.076},{"s":"Chicago RBOB","d":"2021-01-16","v":-0.075},{"s":"Chicago RBOB","d":"2021-01-21","v":-0.07},{"s":"Chicago RBOB","d":"2021-01-22","v":-0.07},{"s":"Chicago RBOB","d":"2021-01-23","v":-0.061},{"s":"Chicago RBOB","d":"2021-01-26","v":-0.06},{"s":"Chicago RBOB","d":"2021-01-27","v":-0.071},{"s":"Chicago RBOB","d":"2021-01-30","v":-0.092},{"s":"Chicago RBOB","d":"2021-02-02","v":-0.067},{"s":"Chicago RBOB","d":"2021-02-03","v":-0.073},{"s":"Chicago RBOB","d":"2021-02-06","v":-0.071},{"s":"Chicago RBOB","d":"2021-02-09","v":-0.073},{"s":"Chicago RBOB","d":"2021-02-10","v":-0.063},{"s":"Chicago RBOB","d":"2021-02-11","v":-0.021},{"s":"Chicago RBOB","d":"2021-02-12","v":-0.021},{"s":"Chicago RBOB","d":"2021-02-13","v":-0.035},{"s":"Chicago RBOB","d":"2021-02-17","v":-0.028},{"s":"Chicago RBOB","d":"2021-02-19","v":-0.043},{"s":"Chicago RBOB","d":"2021-02-20","v":-0.021},{"s":"Chicago RBOB","d":"2021-02-23","v":-0.021},{"s":"Chicago RBOB","d":"2021-02-24","v":-0.035},{"s":"Chicago RBOB","d":"2021-02-25","v":-0.034},{"s":"Chicago RBOB","d":"2021-02-26","v":-0.046},{"s":"Chicago RBOB","d":"2021-02-27","v":-0.047},{"s":"Chicago RBOB","d":"2021-03-01","v":-0.11},{"s":"Chicago RBOB","d":"2021-03-04","v":-0.11},{"s":"Chicago RBOB","d":"2021-03-05","v":-0.143},{"s":"Chicago RBOB","d":"2021-03-08","v":-0.183},{"s":"Chicago RBOB","d":"2021-03-10","v":-0.166},{"s":"Chicago RBOB","d":"2021-03-11","v":-0.18},{"s":"Chicago RBOB","d":"2021-03-12","v":-0.19},{"s":"Chicago RBOB","d":"2021-03-13","v":-0.19},{"s":"Chicago RBOB","d":"2021-03-14","v":-0.2},{"s":"Chicago RBOB","d":"2021-03-16","v":-0.212},{"s":"Chicago RBOB","d":"2021-03-17","v":-0.22},
{"s":"LA CARBOB Basis","d":"2020-03-17","v":0.044},{"s":"LA CARBOB Basis","d":"2020-03-18","v":-0.119},{"s":"LA CARBOB Basis","d":"2020-03-19","v":-0.107},{"s":"LA CARBOB Basis","d":"2020-03-20","v":-0.15},{"s":"LA CARBOB Basis","d":"2020-03-23","v":-0.003},{"s":"LA CARBOB Basis","d":"2020-03-24","v":-0.043},{"s":"LA CARBOB Basis","d":"2020-03-25","v":-0.05},{"s":"LA CARBOB Basis","d":"2020-03-27","v":-0.154},{"s":"LA CARBOB Basis","d":"2020-03-30","v":-0.165},{"s":"LA CARBOB Basis","d":"2020-03-31","v":-0.2},{"s":"LA CARBOB Basis","d":"2020-04-02","v":-0.26},{"s":"LA CARBOB Basis","d":"2020-04-15","v":-0.26},{"s":"LA CARBOB Basis","d":"2020-04-16","v":-0.22},{"s":"LA CARBOB Basis","d":"2020-04-17","v":-0.151},{"s":"LA CARBOB Basis","d":"2020-04-21","v":-0.144},{"s":"LA CARBOB Basis","d":"2020-04-22","v":-0.057},{"s":"LA CARBOB Basis","d":"2020-04-23","v":-0.056},{"s":"LA CARBOB Basis","d":"2020-04-24","v":-0.007},{"s":"LA CARBOB Basis","d":"2020-04-28","v":0.04},{"s":"LA CARBOB Basis","d":"2020-04-29","v":0.043},{"s":"LA CARBOB Basis","d":"2020-04-30","v":0.1},{"s":"LA CARBOB Basis","d":"2020-05-01","v":0.001},{"s":"LA CARBOB Basis","d":"2020-05-04","v":0.018},{"s":"LA CARBOB Basis","d":"2020-05-05","v":0.007},{"s":"LA CARBOB Basis","d":"2020-05-06","v":0.018},{"s":"LA CARBOB Basis","d":"2020-05-08","v":0.084},{"s":"LA CARBOB Basis","d":"2020-05-12","v":0.077},{"s":"LA CARBOB Basis","d":"2020-05-14","v":0.085},{"s":"LA CARBOB Basis","d":"2020-05-18","v":0.08},{"s":"LA CARBOB Basis","d":"2020-05-19","v":0.101},{"s":"LA CARBOB Basis","d":"2020-05-20","v":0.135},{"s":"LA CARBOB Basis","d":"2020-05-21","v":0.143},{"s":"LA CARBOB Basis","d":"2020-05-22","v":0.134},{"s":"LA CARBOB Basis","d":"2020-05-26","v":0.144},{"s":"LA CARBOB Basis","d":"2020-05-28","v":0.191},{"s":"LA CARBOB Basis","d":"2020-05-29","v":0.196},{"s":"LA CARBOB Basis","d":"2020-06-01","v":0.101},{"s":"LA CARBOB Basis","d":"2020-06-02","v":0.101},{"s":"LA CARBOB Basis","d":"2020-06-03","v":0.116},{"s":"LA CARBOB Basis","d":"2020-06-04","v":0.118},{"s":"LA CARBOB Basis","d":"2020-06-05","v":0.104},{"s":"LA CARBOB Basis","d":"2020-06-09","v":0.095},{"s":"LA CARBOB Basis","d":"2020-06-11","v":0.159},{"s":"LA CARBOB Basis","d":"2020-06-12","v":0.163},{"s":"LA CARBOB Basis","d":"2020-06-15","v":0.141},{"s":"LA CARBOB Basis","d":"2020-06-17","v":0.138},{"s":"LA CARBOB Basis","d":"2020-06-18","v":0.12},{"s":"LA CARBOB Basis","d":"2020-06-19","v":0.119},{"s":"LA CARBOB Basis","d":"2020-06-22","v":0.096},{"s":"LA CARBOB Basis","d":"2020-06-23","v":0.102},{"s":"LA CARBOB Basis","d":"2020-06-24","v":0.099},{"s":"LA CARBOB Basis","d":"2020-06-25","v":0.083},{"s":"LA CARBOB Basis","d":"2020-06-26","v":0.083},{"s":"LA CARBOB Basis","d":"2020-06-29","v":0.072},{"s":"LA CARBOB Basis","d":"2020-06-30","v":0.05},{"s":"LA CARBOB Basis","d":"2020-07-02","v":0.084},{"s":"LA CARBOB Basis","d":"2020-07-06","v":0.097},{"s":"LA CARBOB Basis","d":"2020-07-07","v":0.104},{"s":"LA CARBOB Basis","d":"2020-07-08","v":0.091},{"s":"LA CARBOB Basis","d":"2020-07-09","v":0.091},{"s":"LA CARBOB Basis","d":"2020-07-13","v":0.08},{"s":"LA CARBOB Basis","d":"2020-07-15","v":0.075},{"s":"LA CARBOB Basis","d":"2020-07-16","v":0.001},{"s":"LA CARBOB Basis","d":"2020-07-20","v":0.001},{"s":"LA CARBOB Basis","d":"2020-07-22","v":0.065},{"s":"LA CARBOB Basis","d":"2020-07-23","v":0.07},{"s":"LA CARBOB Basis","d":"2020-07-28","v":0.079},{"s":"LA CARBOB Basis","d":"2020-07-29","v":0.101},{"s":"LA CARBOB Basis","d":"2020-07-31","v":0.118},{"s":"LA CARBOB Basis","d":"2020-08-03","v":0.129},{"s":"LA CARBOB Basis","d":"2020-08-06","v":0.086},{"s":"LA CARBOB Basis","d":"2020-08-07","v":0.088},{"s":"LA CARBOB Basis","d":"2020-08-08","v":0.085},{"s":"LA CARBOB Basis","d":"2020-08-11","v":0.085},{"s":"LA CARBOB Basis","d":"2020-08-13","v":0.148},{"s":"LA CARBOB Basis","d":"2020-08-14","v":0.181},{"s":"LA CARBOB Basis","d":"2020-08-17","v":0.149},{"s":"LA CARBOB Basis","d":"2020-08-18","v":0.121},{"s":"LA CARBOB Basis","d":"2020-08-19","v":0.131},{"s":"LA CARBOB Basis","d":"2020-08-20","v":0.126},{"s":"LA CARBOB Basis","d":"2020-08-22","v":0.104},{"s":"LA CARBOB Basis","d":"2020-08-24","v":0.062},{"s":"LA CARBOB Basis","d":"2020-08-25","v":0.023},{"s":"LA CARBOB Basis","d":"2020-08-27","v":0.117},{"s":"LA CARBOB Basis","d":"2020-08-29","v":0.117},{"s":"LA CARBOB Basis","d":"2020-08-31","v":0.16},{"s":"LA CARBOB Basis","d":"2020-09-01","v":0.214},{"s":"LA CARBOB Basis","d":"2020-09-02","v":0.198},{"s":"LA CARBOB Basis","d":"2020-09-04","v":0.189},{"s":"LA CARBOB Basis","d":"2020-09-05","v":0.171},{"s":"LA CARBOB Basis","d":"2020-09-08","v":0.145},{"s":"LA CARBOB Basis","d":"2020-09-09","v":0.13},{"s":"LA CARBOB Basis","d":"2020-09-11","v":0.12},{"s":"LA CARBOB Basis","d":"2020-09-14","v":0.118},{"s":"LA CARBOB Basis","d":"2020-09-16","v":0.104},{"s":"LA CARBOB Basis","d":"2020-09-17","v":0.082},{"s":"LA CARBOB Basis","d":"2020-09-19","v":0.065},{"s":"LA CARBOB Basis","d":"2020-09-22","v":0.065},{"s":"LA CARBOB Basis","d":"2020-09-24","v":0.057},{"s":"LA CARBOB Basis","d":"2020-09-26","v":0.075},{"s":"LA CARBOB Basis","d":"2020-09-29","v":0.08},{"s":"LA CARBOB Basis","d":"2020-09-30","v":0.08},{"s":"LA CARBOB Basis","d":"2020-10-01","v":0.101},{"s":"LA CARBOB Basis","d":"2020-10-05","v":0.097},{"s":"LA CARBOB Basis","d":"2020-10-07","v":0.09},{"s":"LA CARBOB Basis","d":"2020-10-08","v":0.065},{"s":"LA CARBOB Basis","d":"2020-10-10","v":0.059},{"s":"LA CARBOB Basis","d":"2020-10-13","v":0.059},{"s":"LA CARBOB Basis","d":"2020-10-15","v":0.04},{"s":"LA CARBOB Basis","d":"2020-10-16","v":0.084},{"s":"LA CARBOB Basis","d":"2020-10-20","v":0.077},{"s":"LA CARBOB Basis","d":"2020-10-21","v":0.075},{"s":"LA CARBOB Basis","d":"2020-10-22","v":0.075},{"s":"LA CARBOB Basis","d":"2020-10-23","v":0.108},{"s":"LA CARBOB Basis","d":"2020-10-27","v":0.099},{"s":"LA CARBOB Basis","d":"2020-10-28","v":0.08},{"s":"LA CARBOB Basis","d":"2020-10-29","v":0.077},{"s":"LA CARBOB Basis","d":"2020-10-30","v":0.131},{"s":"LA CARBOB Basis","d":"2020-11-02","v":0.173},{"s":"LA CARBOB Basis","d":"2020-11-04","v":0.174},{"s":"LA CARBOB Basis","d":"2020-11-05","v":0.191},{"s":"LA CARBOB Basis","d":"2020-11-06","v":0.185},{"s":"LA CARBOB Basis","d":"2020-11-07","v":0.184},{"s":"LA CARBOB Basis","d":"2020-11-10","v":0.131},{"s":"LA CARBOB Basis","d":"2020-11-11","v":0.134},{"s":"LA CARBOB Basis","d":"2020-11-12","v":0.128},{"s":"LA CARBOB Basis","d":"2020-11-13","v":0.101},{"s":"LA CARBOB Basis","d":"2020-11-14","v":0.099},{"s":"LA CARBOB Basis","d":"2020-11-17","v":0.08},{"s":"LA CARBOB Basis","d":"2020-11-18","v":0.08},{"s":"LA CARBOB Basis","d":"2020-11-19","v":0.14},{"s":"LA CARBOB Basis","d":"2020-11-20","v":0.159},{"s":"LA CARBOB Basis","d":"2020-11-21","v":0.155},{"s":"LA CARBOB Basis","d":"2020-11-24","v":0.183},{"s":"LA CARBOB Basis","d":"2020-11-25","v":0.187},{"s":"LA CARBOB Basis","d":"2020-11-26","v":0.173},{"s":"LA CARBOB Basis","d":"2020-12-01","v":0.129},{"s":"LA CARBOB Basis","d":"2020-12-02","v":0.133},{"s":"LA CARBOB Basis","d":"2020-12-03","v":0.065},{"s":"LA CARBOB Basis","d":"2020-12-04","v":0.03},{"s":"LA CARBOB Basis","d":"2020-12-05","v":0.04},{"s":"LA CARBOB Basis","d":"2020-12-08","v":0.054},{"s":"LA CARBOB Basis","d":"2020-12-09","v":0.054},{"s":"LA CARBOB Basis","d":"2020-12-10","v":0.051},{"s":"LA CARBOB Basis","d":"2020-12-12","v":0.079},{"s":"LA CARBOB Basis","d":"2020-12-15","v":0.065},{"s":"LA CARBOB Basis","d":"2020-12-16","v":0.064},{"s":"LA CARBOB Basis","d":"2020-12-17","v":0.04},{"s":"LA CARBOB Basis","d":"2020-12-18","v":0.077},{"s":"LA CARBOB Basis","d":"2020-12-19","v":0.099},{"s":"LA CARBOB Basis","d":"2020-12-22","v":0.12},{"s":"LA CARBOB Basis","d":"2020-12-23","v":0.142},{"s":"LA CARBOB Basis","d":"2020-12-24","v":0.184},{"s":"LA CARBOB Basis","d":"2020-12-25","v":0.187},{"s":"LA CARBOB Basis","d":"2020-12-29","v":0.171},{"s":"LA CARBOB Basis","d":"2020-12-30","v":0.151},{"s":"LA CARBOB Basis","d":"2021-01-01","v":0.166},{"s":"LA CARBOB Basis","d":"2021-01-04","v":0.159},{"s":"LA CARBOB Basis","d":"2021-01-06","v":0.147},{"s":"LA CARBOB Basis","d":"2021-01-07","v":0.144},{"s":"LA CARBOB Basis","d":"2021-01-08","v":0.109},{"s":"LA CARBOB Basis","d":"2021-01-09","v":0.098},{"s":"LA CARBOB Basis","d":"2021-01-12","v":0.086},{"s":"LA CARBOB Basis","d":"2021-01-13","v":0.08},{"s":"LA CARBOB Basis","d":"2021-01-14","v":0.079},{"s":"LA CARBOB Basis","d":"2021-01-15","v":0.076},{"s":"LA CARBOB Basis","d":"2021-01-20","v":0.073},{"s":"LA CARBOB Basis","d":"2021-01-21","v":0.076},{"s":"LA CARBOB Basis","d":"2021-01-23","v":0.075},{"s":"LA CARBOB Basis","d":"2021-01-26","v":0.078},{"s":"LA CARBOB Basis","d":"2021-01-28","v":0.071},{"s":"LA CARBOB Basis","d":"2021-01-29","v":0.084},{"s":"LA CARBOB Basis","d":"2021-01-30","v":0.123},{"s":"LA CARBOB Basis","d":"2021-02-02","v":0.135},{"s":"LA CARBOB Basis","d":"2021-02-03","v":0.13},{"s":"LA CARBOB Basis","d":"2021-02-04","v":0.117},{"s":"LA CARBOB Basis","d":"2021-02-05","v":0.12},{"s":"LA CARBOB Basis","d":"2021-02-10","v":0.12},{"s":"LA CARBOB Basis","d":"2021-02-11","v":0.106},{"s":"LA CARBOB Basis","d":"2021-02-12","v":0.068},{"s":"LA CARBOB Basis","d":"2021-02-13","v":0.001},{"s":"LA CARBOB Basis","d":"2021-02-16","v":0.008},{"s":"LA CARBOB Basis","d":"2021-02-17","v":0.009},{"s":"LA CARBOB Basis","d":"2021-02-18","v":0.09},{"s":"LA CARBOB Basis","d":"2021-02-19","v":0.081},{"s":"LA CARBOB Basis","d":"2021-02-20","v":0.158},{"s":"LA CARBOB Basis","d":"2021-02-23","v":0.169},{"s":"LA CARBOB Basis","d":"2021-02-25","v":0.155},{"s":"LA CARBOB Basis","d":"2021-02-26","v":0.153},{"s":"LA CARBOB Basis","d":"2021-03-01","v":0.051},{"s":"LA CARBOB Basis","d":"2021-03-04","v":0.039},{"s":"LA CARBOB Basis","d":"2021-03-05","v":0.05},{"s":"LA CARBOB Basis","d":"2021-03-06","v":0.05},{"s":"LA CARBOB Basis","d":"2021-03-09","v":0.04},{"s":"LA CARBOB Basis","d":"2021-03-10","v":0.032},{"s":"LA CARBOB Basis","d":"2021-03-11","v":0.037},{"s":"LA CARBOB Basis","d":"2021-03-12","v":0.057},{"s":"LA CARBOB Basis","d":"2021-03-16","v":0.061},{"s":"LA CARBOB Basis","d":"2021-03-17","v":0.075}
]},
"mark": {"type": "line", "strokeWidth": 10, "clip": true, "strokeJoin": "round", "strokeCap": "round"},
"encoding": {
  "x": {"field": "d", "type": "temporal",
    "scale": {"type": "utc", "domain": [{"year": 2020, "month": 3, "date": 17, "utc": true}, {"year": 2021, "month": 3, "date": 17, "utc": true}]},
    "axis": {"title": null, "labelExpr": "utcFormat(datum.value, '%-m/%-d/%Y')", "labelLimit": 0,
      "values": [{"year":2020,"month":3,"date":17,"utc":true},{"year":2020,"month":4,"date":17,"utc":true},{"year":2020,"month":5,"date":17,"utc":true},{"year":2020,"month":6,"date":17,"utc":true},{"year":2020,"month":7,"date":17,"utc":true},{"year":2020,"month":8,"date":17,"utc":true},{"year":2020,"month":9,"date":17,"utc":true},{"year":2020,"month":10,"date":17,"utc":true},{"year":2020,"month":11,"date":17,"utc":true},{"year":2020,"month":12,"date":17,"utc":true},{"year":2021,"month":1,"date":17,"utc":true},{"year":2021,"month":2,"date":17,"utc":true}],
      "labelFont": "Lato", "labelFontSize": 45, "labelColor": "#595959", "ticks": false, "tickSize": 0, "labelPadding": 42,
      "domain": true, "domainColor": "#D9D9D9", "domainWidth": 3, "grid": false, "labelOverlap": false, "labelFlush": false}},
  "y": {"field": "v", "type": "quantitative",
    "scale": {"domain": [-0.2, 0.25], "nice": false, "zero": false},
    "axis": {"title": null, "values": [-0.2, -0.15, -0.1, -0.05, 0, 0.05, 0.1, 0.15, 0.2, 0.25], "labelExpr": "'' + datum.value",
      "grid": true, "gridColor": "#D9D9D9", "gridWidth": 3, "domain": false, "ticks": false, "tickSize": 0, "labelPadding": 44,
      "labelFont": "Lato", "labelFontSize": 45, "labelColor": "#595959"}},
  "color": {"field": "s", "type": "nominal",
    "scale": {"domain": ["NYH RBOB", "USGC RBOB", "USGC CBOB", "G3 SUB", "Chicago RBOB", "LA CARBOB Basis"], "range": ["#5B9BD5", "#ED7D31", "#A5A5A5", "#FFC000", "#4472C4", "#70AD47"]},
    "legend": {"title": null, "orient": "none", "legendX": 771, "legendY": 2165, "direction": "horizontal", "symbolType": "stroke", "symbolSize": 12100, "symbolStrokeWidth": 10, "labelFont": "Lato", "labelFontSize": 43, "labelColor": "#595959", "labelLimit": 0, "columnPadding": 54, "labelOffset": 8, "padding": 0}}
}
}
